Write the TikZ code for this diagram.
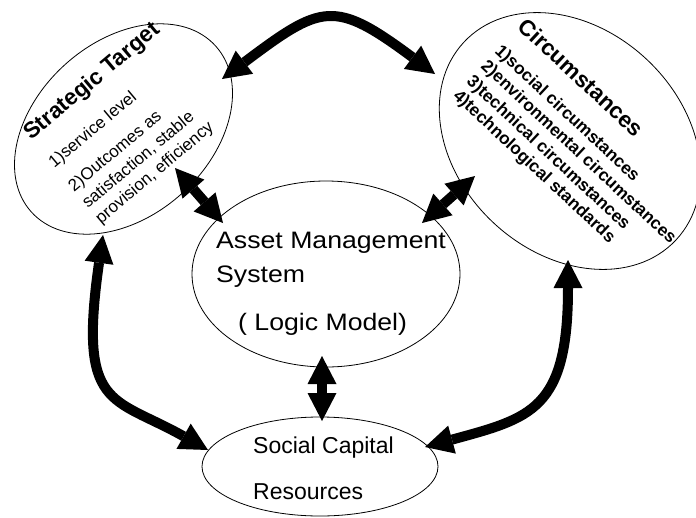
\documentclass[tikz,border=0pt]{standalone}
\usepackage{fontspec}
\setmainfont{Liberation Sans}
\usetikzlibrary{arrows.meta, shapes.geometric}
\newcommand{\wideline}[1]{\scalebox{1.12}[1]{#1}}
\tikzset{
	bubble/.style={draw, ellipse, line width=0.8pt, inner sep=0pt},
	heavy/.style={line width=10pt, {Triangle[length=28pt, width=29pt, line width=0pt]}-{Triangle[length=28pt, width=29pt, line width=0pt]}},
	txt/.style={inner sep=0pt, anchor=base west},
	head/.style={txt, font=\fontsize{22.5}{27}\selectfont\bfseries},
	item/.style={txt, font=\fontsize{17}{21}\selectfont},
	boldItem/.style={txt, font=\fontsize{17.3}{21}\selectfont\bfseries},
	bigText/.style={txt, font=\fontsize{23.8}{28}\selectfont},
	midText/.style={txt, font=\fontsize{23}{28}\selectfont}
}

\begin{document}
\begin{tikzpicture}[x=1pt, y=-1pt]
		\useasboundingbox (0, 0) rectangle (696, 517);
		\node [bubble, minimum width=248pt, minimum height=174pt, rotate=42] (ST) at (123.5, 129) {};
		\node [bubble, minimum width=290pt, minimum height=224pt, rotate=-43] (CI) at (570, 141) {};
		\node [bubble, minimum width=268pt, minimum height=186pt] (AM) at (326, 274) {};
		\node [bubble, minimum width=236pt, minimum height=99pt] (SC) at (320, 466.5) {};
		
		\begin{scope}[shift={(31, 141)}, rotate=40]
			\node [head, rotate=40] (STt) at (0, 0) {Strategic Target};
			\node [item, rotate=40] (ST1) at (0, 36) {1)service level};
			\node [item, rotate=40] (ST2) at (0, 67) {2)Outcomes as};
			\node [item, rotate=40] (ST3) at (0, 88.4) {satisfaction, stable};
			\node [item, rotate=40] (ST4) at (0, 108.7) {provision, efficiency};
		\end{scope}
		\begin{scope}[shift={(516.7, 28)}, rotate=-43]
			\node [head, rotate=-43] (CIt) at (0, 0) {Circumstances};
			\node [boldItem, rotate=-43] (CI1) at (0, 33.2) {1)social circumstances};
			\node [boldItem, rotate=-43] (CI2) at (0, 53.7) {2)environmental circumstances};
			\node [boldItem, rotate=-43] (CI3) at (0, 74.9) {3)technical circumstances};
			\node [boldItem, rotate=-43] (CI4) at (0, 94.7) {4)technological standards};
		\end{scope}
		\node [bigText] (AM1) at (216, 248.3) {\wideline{Asset Management}};
		\node [bigText] (AM2) at (216, 282.3) {\wideline{System}};
		\node [bigText] (AM3) at (238, 330) {\wideline{( Logic Model)}};
		\node [midText] (SC1) at (253, 453.3) {Social Capital};
		\node [midText] (SC2) at (253, 499) {Resources};
		
		% arrow ends, a little inside the ellipses
		\coordinate (ST-CI) at (222, 79);
		\coordinate (CI-ST) at (435, 74);
		\coordinate (ST-AM) at (175, 168);
		\coordinate (AM-ST) at (223, 223);
		\coordinate (CI-AM) at (475, 176);
		\coordinate (AM-CI) at (422, 223);
		\coordinate (AM-SC) at (322, 356);
		\coordinate (SC-AM) at (322, 421);
		\coordinate (ST-SC) at (103, 235);
		\coordinate (SC-ST) at (208, 450);
		\coordinate (CI-SC) at (568, 260);
		\coordinate (SC-CI) at (425, 447);
		
		\draw [heavy] (ST-CI) .. controls (322, 4) and (334, -1) .. (CI-ST);
		\draw [heavy] (ST-AM) -- (AM-ST);
		\draw [heavy] (CI-AM) -- (AM-CI);
		\draw [heavy] (AM-SC) -- (SC-AM);
		\draw [heavy] (ST-SC) .. controls (78, 410) and (112, 396) .. (SC-ST);
		\draw [heavy] (CI-SC) .. controls (568, 410) and (531, 418) .. (SC-CI);
\end{tikzpicture}
\end{document}
